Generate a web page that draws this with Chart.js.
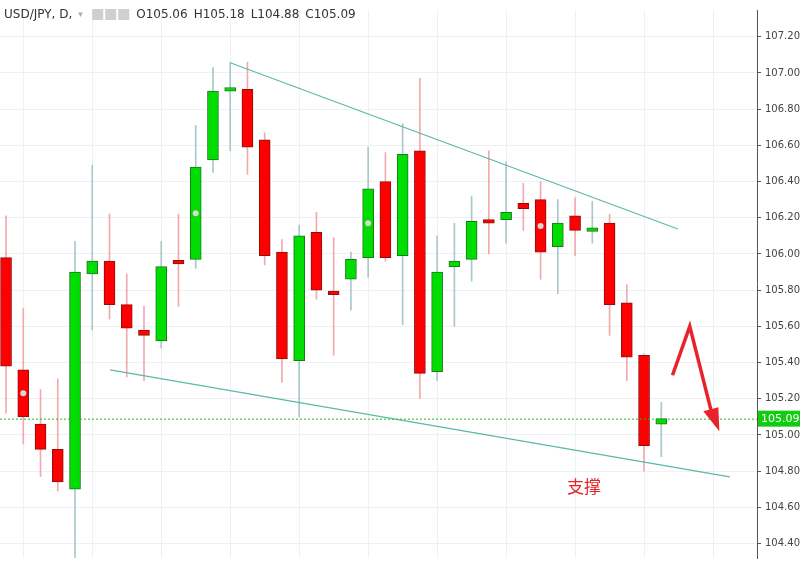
<!DOCTYPE html>
<html>
<head>
<meta charset="utf-8">
<script src="https://cdn.jsdelivr.net/npm/chart.js@4/dist/chart.umd.min.js"></script>
<style>
  html, body { margin: 0; padding: 0; background: #fff; }
  #wrap { width: 800px; height: 568px; }
</style>
</head>
<body>
<div id="wrap"><canvas id="c"></canvas></div>
<script>
// === DATA (daily USD/JPY) ===
const opens  = [105.98,105.36,105.06,104.92,104.70,105.89,105.96,105.72,105.58,105.52,105.96,105.97,106.52,106.90,106.91,106.63,106.01,105.41,106.12,105.79,105.86,105.98,106.40,105.99,106.57,105.35,105.93,105.97,106.19,106.19,106.28,106.30,106.04,106.21,106.13,106.17,105.73,105.44,105.06];
const highs  = [106.21,105.70,105.25,105.31,106.07,106.49,106.22,105.89,105.71,106.07,106.22,106.71,107.03,107.06,107.06,106.67,106.08,106.16,106.23,106.09,106.01,106.59,106.56,106.72,106.97,106.10,106.17,106.32,106.57,106.51,106.39,106.40,106.30,106.31,106.29,106.22,105.83,105.45,105.18];
const lows   = [105.12,104.95,104.77,104.69,104.25,105.58,105.64,105.32,105.30,105.48,105.71,105.92,106.45,106.57,106.44,105.94,105.29,105.10,105.75,105.44,105.69,105.87,105.96,105.61,105.20,105.30,105.60,105.85,106.00,106.06,106.13,105.86,105.78,105.99,106.06,105.55,105.30,104.80,104.88];
const closes = [105.38,105.10,104.92,104.74,105.90,105.96,105.72,105.59,105.55,105.93,105.95,106.48,106.90,106.92,106.59,105.99,105.42,106.10,105.80,105.78,105.97,106.36,105.98,106.55,105.34,105.90,105.96,106.18,106.17,106.23,106.25,106.01,106.17,106.13,106.14,105.72,105.43,104.94,105.09];
const markerBars = [1, 11, 21, 31];           // grey event dots
const yTicks = [104.40,104.60,104.80,105.00,105.20,105.40,105.60,105.80,106.00,106.20,106.40,106.60,106.80,107.00,107.20];
const upperLine = [{ x: 13.04, y: 107.055 }, { x: 38.96, y: 106.138 }];
const lowerLine = [{ x: 6.03, y: 105.359 }, { x: 41.97, y: 104.768 }];
const arrowPath = [{ x: 38.65, y: 105.33 }, { x: 39.65, y: 105.60 }, { x: 41.25, y: 105.02 }];
const lastPrice = 105.09;
const header = ["USD/JPY, D,", "O", "105.06", "H", "105.18", "L", "104.88", "C", "105.09"];

const UP = "#00dd00", DOWN = "#ff0000";
const isUp = i => closes[i] >= opens[i];

const bodies = opens.map((o, i) => {
    const c = closes[i];
    if (Math.abs(o - c) < 0.02) {
        const m = (o + c) / 2;
        return { x: i, y: [m - 0.01, m + 0.01] };
    }
    return { x: i, y: [o, c] };
});
const wicks = highs.map((h, i) => ({ x: i, y: [lows[i], h] }));

// === OVERLAYS: header, last price, arrow, label, dots ===
const overlay = {
    id: "overlay",
    afterDatasetsDraw(chart) {
        const ctx = chart.ctx, xs = chart.scales.x, ys = chart.scales.y;

        // grey event dots
        ctx.save();
        markerBars.forEach(i => {
            ctx.beginPath();
            ctx.arc(xs.getPixelForValue(i), ys.getPixelForValue((opens[i] + closes[i]) / 2), 3, 0, Math.PI * 2);
            ctx.fillStyle = "#d8d8d8";
            ctx.fill();
        });

        // last price dotted line
        const py = ys.getPixelForValue(lastPrice);
        ctx.setLineDash([2, 2]);
        ctx.strokeStyle = "#22bb22";
        ctx.lineWidth = 1;
        ctx.beginPath();
        ctx.moveTo(chart.chartArea.left, py + 0.5);
        ctx.lineTo(chart.chartArea.right, py + 0.5);
        ctx.stroke();
        ctx.setLineDash([]);

        // red arrow
        ctx.strokeStyle = "#e8242a";
        ctx.fillStyle = "#e8242a";
        ctx.lineWidth = 3.5;
        ctx.lineJoin = "miter";
        const pts = arrowPath.map(p => [xs.getPixelForValue(p.x), ys.getPixelForValue(p.y)]);
        ctx.beginPath();
        ctx.moveTo(pts[0][0], pts[0][1]);
        ctx.lineTo(pts[1][0], pts[1][1]);
        ctx.lineTo(pts[2][0] - 4, pts[2][1] - 12);
        ctx.stroke();
        ctx.beginPath();
        ctx.moveTo(pts[2][0] + 2, pts[2][1]);
        ctx.lineTo(pts[2][0] - 14, pts[2][1] - 20);
        ctx.lineTo(pts[2][0] + 1, pts[2][1] - 24);
        ctx.closePath();
        ctx.fill();

        // label
        ctx.font = "17px 'Noto Sans CJK SC'";
        ctx.textAlign = "left";
        ctx.textBaseline = "middle";
        ctx.fillText("支撑", 567, 487);

        // header
        ctx.font = "12px 'DejaVu Sans'";
        ctx.textBaseline = "middle";
        let x = 4;
        ctx.fillStyle = "#333";
        ctx.fillText(header[0], x, 15); x += ctx.measureText(header[0]).width + 6;
        ctx.fillStyle = "#aaa";
        ctx.font = "9px 'DejaVu Sans'";
        ctx.fillText("▾", x, 15);
        ctx.font = "12px 'DejaVu Sans'";
        x += 14;
        ctx.fillStyle = "#cfcfcf";
        ctx.fillRect(x, 9, 11, 11); ctx.fillRect(x + 13, 9, 11, 11); ctx.fillRect(x + 26, 9, 11, 11);
        x += 44;
        for (let k = 1; k < header.length; k += 2) {
            ctx.fillStyle = "#333";
            ctx.fillText(header[k], x, 15); x += ctx.measureText(header[k]).width;
            ctx.fillText(header[k + 1], x, 15); x += ctx.measureText(header[k + 1]).width + 6;
        }

        // price tag on axis
        ctx.fillStyle = "#11cc11";
        ctx.fillRect(chart.chartArea.right + 1, py - 8, 42, 16);
        ctx.fillStyle = "#fff";
        ctx.font = "11px 'DejaVu Sans'";
        ctx.fillText(lastPrice.toFixed(2), chart.chartArea.right + 4, py);
        ctx.restore();
    }
};

new Chart(document.getElementById("c"), {
    data: {
        datasets: [
            {
                type: "bar", data: bodies, grouped: false, order: 1,
                barThickness: 11,
                backgroundColor: ctx => isUp(ctx.dataIndex) ? UP : DOWN,
                borderColor: ctx => isUp(ctx.dataIndex) ? "#1a7a1a" : "#8a1010",
                borderWidth: 1, borderSkipped: false
            },
            {
                type: "bar", data: wicks, grouped: false, order: 2,
                barThickness: 1,
                backgroundColor: ctx => isUp(ctx.dataIndex) ? "#a9c8cc" : "#f3a9ad"
            },
            { type: "line", data: upperLine, borderColor: "#5cb8aa", borderWidth: 1.2, pointRadius: 0, order: 0 },
            { type: "line", data: lowerLine, borderColor: "#5cb8aa", borderWidth: 1.2, pointRadius: 0, order: 0 }
        ]
    },
    options: {
        responsive: true,
        maintainAspectRatio: false,
        animation: false,
        layout: { padding: 0 },
        plugins: { legend: { display: false }, tooltip: { enabled: false } },
        scales: {
            x: {
                type: "linear", min: -0.35, max: 43.55, offset: false,
                afterBuildTicks: axis => { axis.ticks = [1, 5, 9, 13, 17, 21, 25, 29, 33, 37, 41].map(v => ({ value: v })); },
                ticks: { display: false },
                grid: { color: "#eef1f3", drawTicks: false, offset: false },
                border: { display: false }
            },
            y: {
                position: "right", min: 104.32, max: 107.348,
                afterBuildTicks: axis => { axis.ticks = yTicks.map(v => ({ value: v })); },
                afterFit: axis => { axis.width = 43; },
                ticks: {
                    color: "#444", font: { size: 10, family: "DejaVu Sans" }, padding: 4,
                    callback: v => v.toFixed(2)
                },
                grid: { color: "#eef1f3", tickLength: 4, tickColor: "#555" },
                border: { display: true, color: "#555" }
            }
        }
    },
    plugins: [overlay]
});
</script>
</body>
</html>
